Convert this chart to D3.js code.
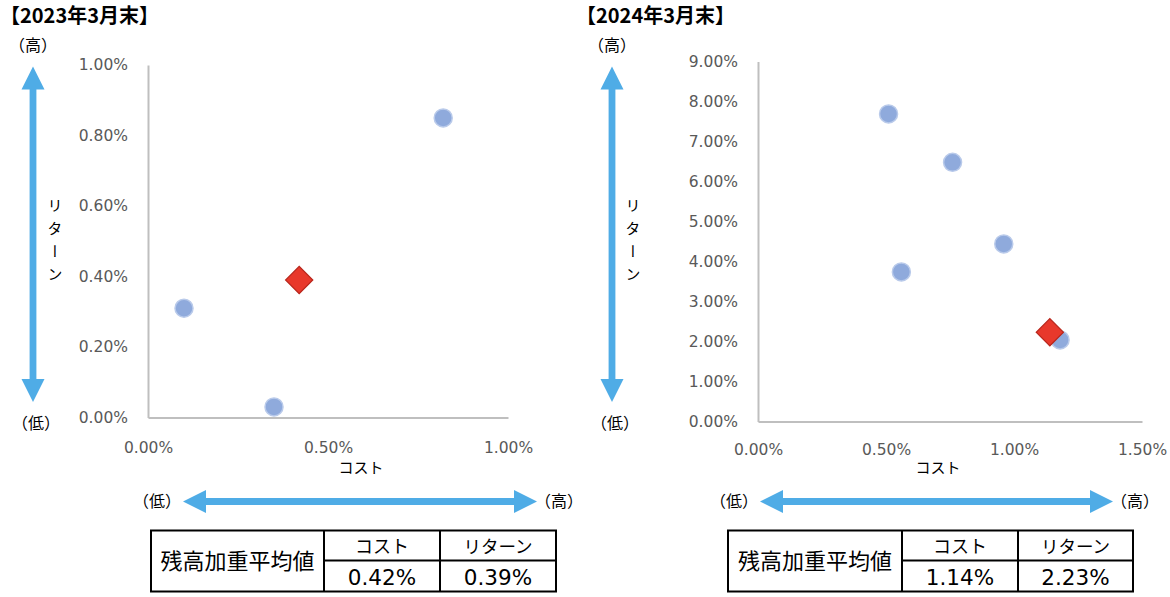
<!DOCTYPE html>
<html>
<head>
<meta charset="utf-8">
<script src="https://cdn.jsdelivr.net/npm/d3@7"></script>
<style>
  html, body { margin: 0; padding: 0; background: #fff; }
  svg text { font-family: "Noto Sans CJK JP", "Noto Sans", sans-serif; }
  svg text.num { font-family: "DejaVu Sans", sans-serif; }
</style>
</head>
<body>
<div id="chart"></div>
<script>
// values (percent)
const titles = ['【2023年3月末】', '【2024年3月末】'];
const cost2023 = [0.10, 0.82, 0.35];
const ret2023 = [0.31, 0.85, 0.03];
const avg2023 = [0.42, 0.39];
const cost2024 = [0.51, 0.76, 0.96, 0.56, 1.18];
const ret2024 = [7.69, 6.48, 4.44, 3.74, 2.04];
const avg2024 = [1.14, 2.23];
const xTicks2023 = [0, 0.5, 1.0];
const yTicks2023 = [0, 0.2, 0.4, 0.6, 0.8, 1.0];
const xTicks2024 = [0, 0.5, 1.0, 1.5];
const yTicks2024 = [0, 1, 2, 3, 4, 5, 6, 7, 8, 9];
const tableHead = ['残高加重平均値', 'コスト', 'リターン'];

const W = 1170, H = 597;
const arrowColor = '#4FACE6';

const svg = d3.select('#chart').append('svg')
    .attr('width', W)
    .attr('height', H)
    .attr('viewBox', `0 0 ${W} ${H}`);

const fmt = d => d.toFixed(2) + '%';

// panel layout (pixels)
const panels = [
    { title: titles[0], titleX: 0, cost: cost2023, ret: ret2023, avg: avg2023, xt: xTicks2023, yt: yTicks2023,
      plot: [148, 508, 65, 417.5], vArrowX: 33, yTitleX: 55, costX: 361, xdy: '0.98em',
      hArrow: [183, 537], table: [151, 324, 440, 556] },
    { title: titles[1], titleX: 576, cost: cost2024, ret: ret2024, avg: avg2024, xt: xTicks2024, yt: yTicks2024,
      plot: [758, 1142, 61.5, 421.5], vArrowX: 612, yTitleX: 633, costX: 938, xdy: '0.9em',
      hArrow: [760, 1113], table: [728, 902, 1018, 1133] }
];

// double-headed block arrow
function doubleArrow(g, x1, y1, x2, y2) {
    const len = Math.hypot(x2 - x1, y2 - y1);
    const ang = Math.atan2(y2 - y1, x2 - x1) * 180 / Math.PI;
    const hl = 23, hw = 11.5, sw = 3.4;
    const a = g.append('g').attr('transform', `translate(${x1},${y1}) rotate(${ang})`);
    a.append('path')
        .attr('d', `M0,0 L${hl},${-hw} L${hl},${-sw} L${len - hl},${-sw} L${len - hl},${-hw} L${len},0 L${len - hl},${hw} L${len - hl},${sw} L${hl},${sw} L${hl},${hw} Z`)
        .attr('fill', arrowColor);
}

function label(g, x, y, txt, size) {
    return g.append('text').attr('x', x).attr('y', y).attr('text-anchor', 'middle')
        .style('font-size', size + 'px').attr('fill', '#000').text(txt);
}

panels.forEach((p, i) => {
    const g = svg.append('g');
    const [x0, x1, y0, y1] = p.plot;

    const x = d3.scaleLinear().domain([p.xt[0], p.xt[p.xt.length - 1]]).range([x0, x1]);
    const y = d3.scaleLinear().domain([p.yt[0], p.yt[p.yt.length - 1]]).range([y1, y0]);

    // title
    g.append('text')
        .attr('x', p.titleX)
        .attr('y', 23)
        .style('font-size', '20px')
        .style('font-weight', 'bold')
        .attr('fill', '#000')
        .text(p.title);

    // axes
    const yAxis = g.append('g')
        .attr('transform', `translate(${x0},0)`)
        .call(d3.axisLeft(y).tickValues(p.yt).tickSize(0).tickPadding(20).tickFormat(fmt));
    const xAxis = g.append('g')
        .attr('transform', `translate(0,${y1})`)
        .call(d3.axisBottom(x).tickValues(p.xt).tickSize(0).tickPadding(20).tickFormat(fmt));
    [yAxis, xAxis].forEach(ax => {
        ax.select('.domain').attr('stroke', '#BFBFBF').attr('stroke-width', 2);
        ax.selectAll('text').attr('class', 'num').attr('fill', '#595959')
            .style('font-size', '15.5px').style('font-family', '"DejaVu Sans", sans-serif');
    });
    xAxis.selectAll('text').attr('dy', p.xdy);

    // axis titles
    label(g, p.costX, 473, 'コスト', 15);
    g.append('text')
        .attr('x', p.yTitleX)
        .attr('y', 198)
        .attr('writing-mode', 'vertical-rl')
        .style('font-size', '15px')
        .style('letter-spacing', '8px')
        .attr('fill', '#000')
        .text('リターン');

    // vertical arrow + labels
    doubleArrow(g, p.vArrowX, 66.5, p.vArrowX, 402);
    label(g, p.vArrowX, 51, '（高）', 16);
    label(g, p.vArrowX + 3, 429, '（低）', 16);

    // horizontal arrow + labels
    doubleArrow(g, p.hArrow[0], 501.5, p.hArrow[1], 501.5);
    label(g, p.hArrow[0] - 26, 507, '（低）', 16);
    label(g, p.hArrow[1] + 22, 507, '（高）', 16);

    // points
    g.selectAll('circle.pt')
        .data(p.cost.map((c, k) => [c, p.ret[k]]))
        .enter()
        .append('circle')
        .attr('class', 'pt')
        .attr('cx', d => x(d[0]))
        .attr('cy', d => y(d[1]))
        .attr('r', 9)
        .attr('fill', '#8FAADC')
        .attr('stroke', '#B9CAEA')
        .attr('stroke-width', 1.5);

    // weighted average diamond
    g.append('path')
        .attr('d', d3.symbol().type(d3.symbolSquare).size(370)())
        .attr('transform', `translate(${x(p.avg[0])},${y(p.avg[1])}) rotate(45)`)
        .attr('fill', '#E8382B')
        .attr('stroke', '#B8261C')
        .attr('stroke-width', 1.2);

    // table
    const [tx0, tx1, tx2, tx3] = p.table;
    const ty0 = 530.5, ty1 = 560.5, ty2 = 591.5;
    const t = g.append('g').attr('stroke', '#000').attr('stroke-width', 2);
    t.append('rect').attr('x', tx0).attr('y', ty0).attr('width', tx3 - tx0).attr('height', ty2 - ty0).attr('fill', 'none');
    t.append('line').attr('x1', tx1).attr('x2', tx1).attr('y1', ty0).attr('y2', ty2);
    t.append('line').attr('x1', tx2).attr('x2', tx2).attr('y1', ty0).attr('y2', ty2);
    t.append('line').attr('x1', tx1).attr('x2', tx3).attr('y1', ty1).attr('y2', ty1);

    label(g, (tx0 + tx1) / 2, 569, tableHead[0], 22);
    label(g, (tx1 + tx2) / 2, 553, tableHead[1], 18);
    label(g, (tx2 + tx3) / 2, 553, tableHead[2], 17.5);
    label(g, (tx1 + tx2) / 2, 585, fmt(p.avg[0]), 21.5).attr('class', 'num');
    label(g, (tx2 + tx3) / 2, 585, fmt(p.avg[1]), 21.5).attr('class', 'num');
});
</script>
</body>
</html>
